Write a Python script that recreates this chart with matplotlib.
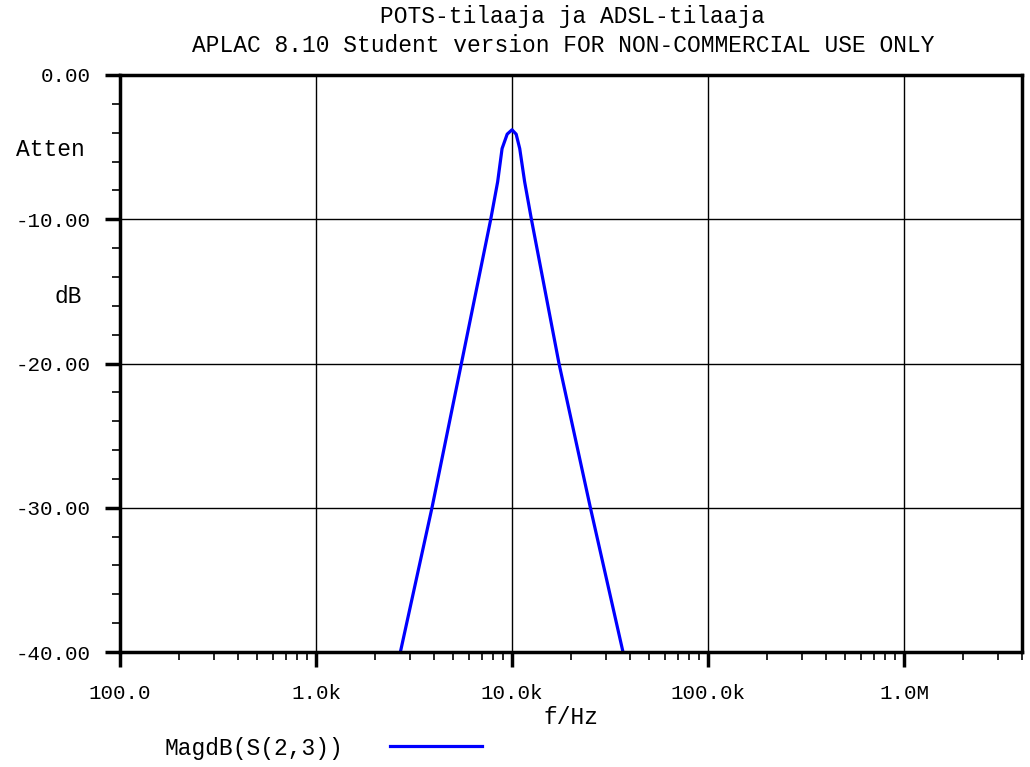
import matplotlib
matplotlib.use("Agg")
import matplotlib.pyplot as plt
from matplotlib.ticker import FixedLocator, LogLocator, NullFormatter

# values
freq_hz = [2695, 3906, 5518, 7790, 8450, 8900, 9450, 10000, 10500, 10950, 11600, 12560, 17370, 25120, 36840]
atten_db = [-40.0, -30.0, -20.0, -10.0, -7.4, -5.1, -4.1, -3.8, -4.1, -5.1, -7.4, -10.0, -20.0, -30.0, -40.0]

x_ticks = [100, 1e3, 1e4, 1e5, 1e6]
x_tick_labels = ["100.0", "1.0k", "10.0k", "100.0k", "1.0M"]
y_ticks = [0, -10, -20, -30, -40]

FONT = ["Liberation Mono", "DejaVu Sans Mono"]
plt.rcParams["font.family"] = FONT
FS_TICK = 15
FS_TEXT = 16.5

fig = plt.figure(figsize=(10.30, 7.67), dpi=100)
ax = fig.add_axes([120 / 1030, 1 - 652 / 767, 902 / 1030, 577 / 767])

ax.plot(freq_hz, atten_db, color="#0000ff", linewidth=2.3, solid_joinstyle="round")

ax.set_xscale("log")
ax.set_xlim(100, 4e6)
ax.set_ylim(-40, 0)

ax.xaxis.set_major_locator(FixedLocator(x_ticks))
ax.set_xticklabels(x_tick_labels)
ax.xaxis.set_minor_locator(LogLocator(base=10, subs=range(2, 10), numticks=20))
ax.xaxis.set_minor_formatter(NullFormatter())

ax.yaxis.set_major_locator(FixedLocator(y_ticks))
ax.set_yticklabels([f"{v:.2f}" for v in y_ticks])
ax.yaxis.set_minor_locator(FixedLocator(range(-40, 1, 2)))

ax.grid(True, which="major", color="black", linewidth=1.0)
for side in ax.spines.values():
    side.set_linewidth(2.5)

ax.tick_params(axis="both", which="major", direction="out", length=11, width=2.5,
               labelsize=FS_TICK, pad=10, color="black")
ax.tick_params(axis="both", which="minor", direction="out", length=6, width=1.2, color="black")
ax.tick_params(axis="x", which="major", pad=12)

fig.text(573 / 1030, 1 - 17 / 767, "POTS-tilaaja ja ADSL-tilaaja", ha="center", va="center", fontsize=FS_TEXT)
fig.text(563 / 1030, 1 - 45 / 767, "APLAC 8.10 Student version FOR NON-COMMERCIAL USE ONLY",
         ha="center", va="center", fontsize=FS_TEXT)
fig.text(50 / 1030, 1 - 150 / 767, "Atten", ha="center", va="center", fontsize=FS_TEXT)
fig.text(68 / 1030, 1 - 296 / 767, "dB", ha="center", va="center", fontsize=FS_TEXT)
fig.text(571 / 1030, 1 - 718 / 767, "f/Hz", ha="center", va="center", fontsize=FS_TEXT)
fig.text(165 / 1030, 1 - 748 / 767, "MagdB(S(2,3))", ha="left", va="center", fontsize=FS_TEXT)
fig.add_artist(plt.Line2D([390 / 1030, 482 / 1030], [1 - 746 / 767, 1 - 746 / 767],
                          color="#0000ff", linewidth=2.3))

fig.savefig("out.png", dpi=100, facecolor="white")
